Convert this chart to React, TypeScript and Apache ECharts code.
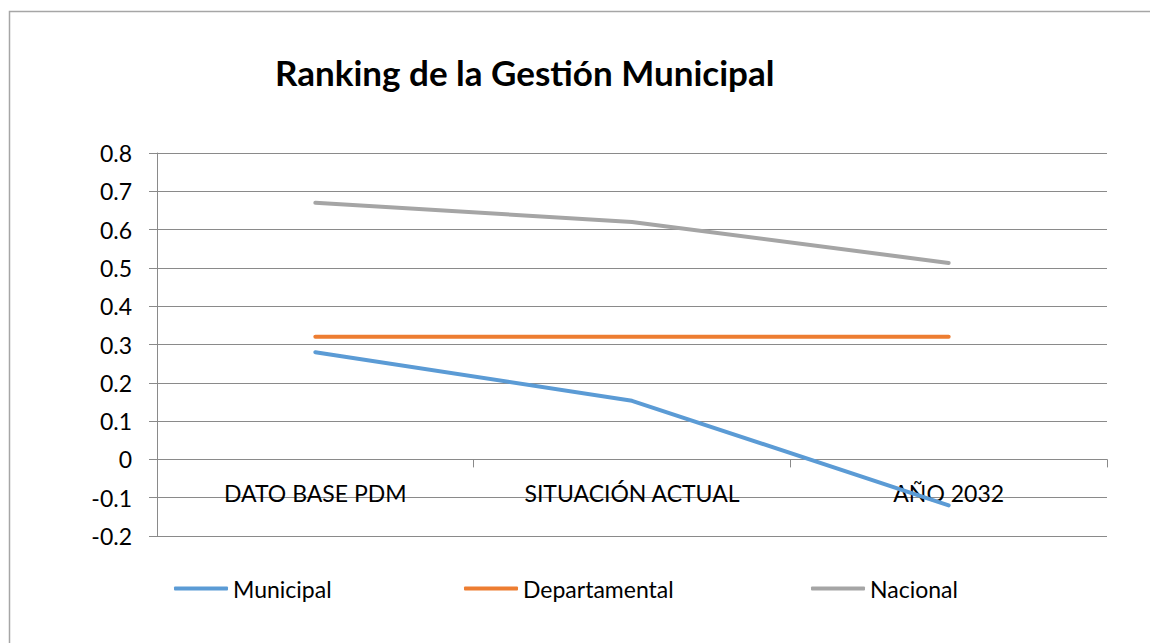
import React, { useEffect, useRef } from "react";
import * as echarts from "echarts";

const categories = ["DATO BASE PDM", "SITUACIÓN ACTUAL", "AÑO 2032"];
const municipal = [0.28, 0.153, -0.12];
const departamental = [0.32, 0.32, 0.32];
const nacional = [0.67, 0.62, 0.513];
const seriesNames = ["Municipal", "Departamental", "Nacional"];
const colors = ["#5B9BD5", "#ED7D31", "#A5A5A5"];
const titleText = "Ranking de la Gestión Municipal";

const FONT = "Lato, 'Open Sans', sans-serif";
const GRID_COLOR = "#8a8a8a";

export default function App() {
  const ref = useRef<HTMLDivElement>(null);
  useEffect(() => {
    if (!ref.current) return;
    const chart = echarts.init(ref.current, null, { renderer: "svg" });
    const values = [municipal, departamental, nacional];
    const legendLefts = [174, 464, 811];
    chart.setOption({
      animation: false,
      backgroundColor: "#ffffff",
      textStyle: { fontFamily: FONT },
      title: {
        text: titleText,
        left: 275,
        top: 54,
        padding: 0,
        textStyle: { fontFamily: FONT, fontWeight: "bold", fontSize: 35, color: "#000" },
      },
      graphic: [
        {
          type: "rect",
          shape: { x: 9.5, y: 11.5, width: 1300, height: 800 },
          style: { fill: "none", stroke: "#a6a6a6", lineWidth: 1.5 },
          silent: true,
        },
      ],
      legend: seriesNames.map((n, i) => ({
        data: [n],
        left: legendLefts[i],
        top: 577,
        padding: 0,
        icon: "roundRect",
        itemWidth: 54,
        itemHeight: 4,
        textStyle: { fontFamily: FONT, fontSize: 23, color: "#000" },
      })),
      grid: { left: 157, right: 43, top: 153, bottom: 107, containLabel: false },
      xAxis: {
        type: "category",
        data: categories,
        boundaryGap: true,
        axisLine: { show: true, onZero: true, lineStyle: { color: GRID_COLOR, width: 1 } },
        axisTick: { show: true, length: 8, lineStyle: { color: GRID_COLOR } },
        axisLabel: { fontFamily: FONT, fontSize: 23, color: "#000", margin: -55 },
        z: 1,
      },
      yAxis: {
        type: "value",
        min: -0.2,
        max: 0.8,
        interval: 0.1,
        axisLine: { show: true, lineStyle: { color: GRID_COLOR, width: 1 } },
        axisTick: { show: true, length: 8, lineStyle: { color: GRID_COLOR } },
        splitLine: { show: true, lineStyle: { color: GRID_COLOR, width: 1 } },
        axisLabel: {
          fontFamily: FONT,
          fontSize: 23,
          color: "#000",
          margin: 25,
          formatter: (v: number) => {
            const r = Math.round(v * 10) / 10;
            return r === 0 ? "0" : r.toFixed(1);
          },
        },
      },
      series: seriesNames.map((n, i) => ({
        name: n,
        type: "line",
        data: values[i],
        symbol: "none",
        showSymbol: false,
        color: colors[i],
        lineStyle: { color: colors[i], width: 4, cap: "round", join: "round" },
        itemStyle: { color: colors[i] },
        z: 5,
      })),
    });
    return () => chart.dispose();
  }, []);
  return (
    <div
      ref={ref}
      style={{ position: "absolute", left: 0, top: 0, width: 1150, height: 643, background: "#fff" }}
    />
  );
}
